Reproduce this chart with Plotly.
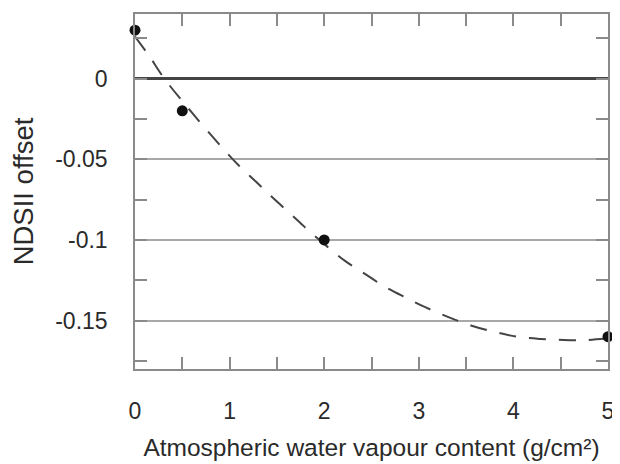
import plotly.graph_objects as go

# Measured points
wv_points = [0, 0.5, 2, 5]
offset_points = [0.03, -0.02, -0.1, -0.16]

# Dashed fitted curve
wv_curve = [0, 0.15, 0.31, 0.6, 0.94, 1.1, 1.28, 1.44, 1.74, 1.83, 2.03, 2.22,
            2.43, 2.64, 2.87, 3.08, 3.32, 3.55, 3.8, 4.04, 4.29, 4.53, 4.79, 5.0]
offset_curve = [0.026, 0.014, 0.0, -0.021, -0.044, -0.054, -0.064, -0.073, -0.089,
                -0.094, -0.104, -0.113, -0.121, -0.129, -0.136, -0.142, -0.148,
                -0.153, -0.157, -0.160, -0.1614, -0.162, -0.162, -0.161]

x_ticks = [0, 1, 2, 3, 4, 5]
y_ticks = [0, -0.05, -0.1, -0.15]
y_tick_text = ["0", "-0.05", "-0.1", "-0.15"]

fig = go.Figure()
fig.add_trace(go.Scatter(x=wv_curve, y=offset_curve, mode="lines",
                         line=dict(color="#444444", width=2, dash="17px,13px", shape="spline"),
                         showlegend=False, cliponaxis=False))
fig.add_trace(go.Scatter(x=wv_points, y=offset_points, mode="markers",
                         marker=dict(color="#111111", size=11),
                         showlegend=False, cliponaxis=False))

font = dict(family="Liberation Sans, Arial, sans-serif", color="#2a2a2a")
axcol = "#8a8a8a"

fig.update_layout(
    width=620, height=464,
    margin=dict(l=127, r=20, t=6, b=103, autoexpand=False),
    paper_bgcolor="white", plot_bgcolor="white",
    font=dict(**font, size=22),
    xaxis=dict(range=[0, 5], tickvals=x_ticks, ticks="inside", ticklen=12,
               tickcolor=axcol, tickwidth=1.5, showline=True, linecolor=axcol,
               linewidth=1.5, mirror="allticks", showgrid=False, zeroline=False,
               automargin=False,
               minor=dict(dtick=0.5, ticks="inside", ticklen=12, tickcolor=axcol,
                          tickwidth=1.5, showgrid=False),
               tickfont=dict(size=23), ticklabelstandoff=21,
               title=dict(text="Atmospheric water vapour content (g/cm²)",
                          font=dict(size=24.5), standoff=16)),
    yaxis=dict(range=[-0.18, 0.04], tickvals=y_ticks, ticktext=y_tick_text,
               ticks="inside", ticklen=12, tickcolor=axcol, tickwidth=1.5,
               showline=True, linecolor=axcol, linewidth=1.5, mirror="allticks",
               showgrid=True, gridcolor="#a8a8a8", gridwidth=1.5,
               zeroline=True, zerolinecolor="#444444", zerolinewidth=2.5,
               automargin=False,
               minor=dict(dtick=0.025, tick0=0, ticks="inside", ticklen=12,
                          tickcolor=axcol, tickwidth=1.5, showgrid=False),
               tickfont=dict(size=23), ticklabelstandoff=21,
               title=dict(text="NDSII offset", font=dict(size=27.5), standoff=17)),
)

fig.write_html("out.html")
